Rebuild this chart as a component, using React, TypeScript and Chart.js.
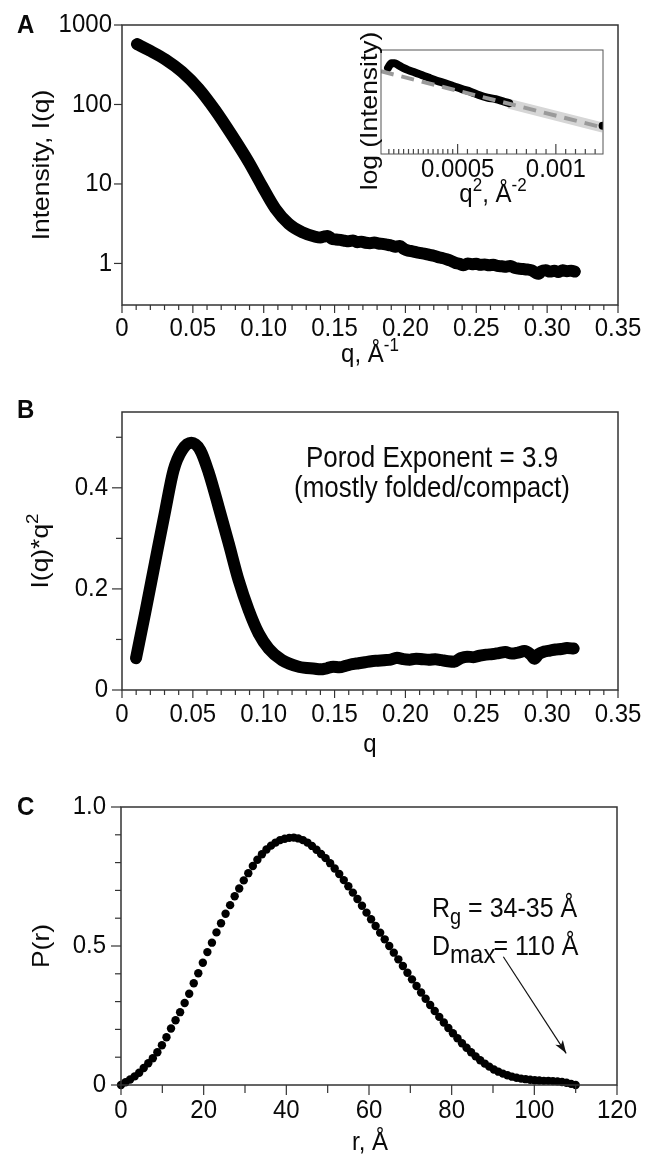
import React, { useEffect, useRef } from "react";
import { Chart, registerables } from "chart.js";

Chart.register(...registerables);

const FONT = '"Liberation Sans", Arial, Helvetica, sans-serif';
const INK = "#0a0a0a";
const STRETCH = 1.1; // the reference lettering is slightly tall

// ---------- Panel A : I(q) vs q (log) ----------
const qA = [0.0106, 0.0188, 0.0306, 0.0423, 0.0541, 0.0658, 0.0776, 0.0894, 0.0988, 0.1082, 0.1176, 0.127, 0.1364, 0.14, 0.1425, 0.145, 0.148, 0.151, 0.154, 0.157, 0.16, 0.163, 0.166, 0.169, 0.172, 0.175, 0.178, 0.181, 0.184, 0.187, 0.19, 0.193, 0.196, 0.199, 0.202, 0.205, 0.208, 0.211, 0.214, 0.217, 0.22, 0.223, 0.226, 0.229, 0.232, 0.235, 0.238, 0.241, 0.244, 0.247, 0.25, 0.253, 0.256, 0.259, 0.262, 0.265, 0.268, 0.271, 0.274, 0.277, 0.28, 0.283, 0.286, 0.289, 0.292, 0.294, 0.296, 0.299, 0.302, 0.305, 0.308, 0.311, 0.314, 0.317, 0.3195];
const intensityA = [575, 484, 369, 258, 158.5, 84.7, 41, 18.9, 9.44, 4.9, 3.16, 2.48, 2.17, 2.12, 2.18, 2.22, 2.05, 2.0, 1.98, 1.93, 1.9, 1.95, 1.85, 1.88, 1.82, 1.8, 1.83, 1.78, 1.76, 1.72, 1.68, 1.62, 1.66, 1.52, 1.45, 1.42, 1.38, 1.35, 1.32, 1.28, 1.25, 1.2, 1.17, 1.13, 1.08, 1.02, 0.99, 0.95, 1.0, 0.98, 0.99, 0.96, 0.97, 0.95, 0.96, 0.93, 0.92, 0.91, 0.93, 0.88, 0.86, 0.85, 0.84, 0.82, 0.76, 0.74, 0.8, 0.82, 0.79, 0.81, 0.78, 0.82, 0.8, 0.81, 0.79];

// ---------- Inset : Guinier plot ----------
const q2Inset = [0.000146, 0.000163, 0.00018, 0.000197, 0.000223, 0.000249, 0.000283, 0.000317, 0.000351, 0.000394, 0.000437, 0.00048, 0.000522, 0.000566, 0.000608, 0.000651, 0.000694, 0.000737, 0.000762];
const logIInset = [2.798, 2.814, 2.814, 2.808, 2.798, 2.79, 2.782, 2.773, 2.764, 2.753, 2.744, 2.734, 2.724, 2.715, 2.703, 2.694, 2.689, 2.68, 2.675];
const fitQ2 = [0.00011, 0.00124];
const fitLogI = [2.786, 2.59];
const bandQ2 = [0.00076, 0.00124];
const bandLogI = [2.673, 2.59];
const endQ2 = [0.001238];
const endLogI = [2.596];

// ---------- Panel B : Kratky ----------
const qB = [0.0099, 0.0164, 0.0235, 0.0306, 0.0364, 0.0423, 0.0489, 0.0553, 0.0611, 0.0682, 0.0753, 0.0823, 0.0894, 0.0964, 0.1035, 0.1129, 0.1247, 0.1364, 0.14, 0.1445, 0.149, 0.1535, 0.158, 0.1625, 0.167, 0.1715, 0.176, 0.1805, 0.185, 0.1895, 0.194, 0.1985, 0.203, 0.2075, 0.212, 0.2165, 0.221, 0.2255, 0.23, 0.2345, 0.239, 0.2435, 0.248, 0.2525, 0.257, 0.2615, 0.266, 0.2705, 0.275, 0.2795, 0.284, 0.2885, 0.291, 0.294, 0.298, 0.302, 0.306, 0.31, 0.314, 0.3187];
const kratkyB = [0.063, 0.153, 0.255, 0.356, 0.435, 0.474, 0.489, 0.474, 0.431, 0.362, 0.29, 0.217, 0.158, 0.112, 0.082, 0.059, 0.046, 0.042, 0.041, 0.043, 0.046, 0.045, 0.048, 0.051, 0.053, 0.055, 0.057, 0.058, 0.059, 0.06, 0.064, 0.061, 0.06, 0.062, 0.061, 0.06, 0.061, 0.059, 0.057, 0.056, 0.063, 0.066, 0.065, 0.068, 0.07, 0.071, 0.073, 0.075, 0.072, 0.074, 0.077, 0.07, 0.062, 0.071, 0.076, 0.078, 0.08, 0.081, 0.083, 0.082];

// ---------- Panel C : P(r) ----------
const rC = [0, 1.1, 2.2, 3.3, 4.4, 5.5, 6.6, 7.7, 8.8, 9.9, 11, 12.1, 13.2, 14.3, 15.4, 16.5, 17.6, 18.7, 19.8, 20.9, 22, 23.1, 24.2, 25.3, 26.4, 27.5, 28.6, 29.7, 30.8, 31.9, 33, 34.1, 35.2, 36.3, 37.4, 38.5, 39.6, 40.7, 41.8, 42.9, 44, 45.1, 46.2, 47.3, 48.4, 49.5, 50.6, 51.7, 52.8, 53.9, 55, 56.1, 57.2, 58.3, 59.4, 60.5, 61.6, 62.7, 63.8, 64.9, 66, 67.1, 68.2, 69.3, 70.4, 71.5, 72.6, 73.7, 74.8, 75.9, 77, 78.1, 79.2, 80.3, 81.4, 82.5, 83.6, 84.7, 85.8, 86.9, 88, 89.1, 90.2, 91.3, 92.4, 93.5, 94.6, 95.7, 96.8, 97.9, 99, 100.1, 101.2, 102.3, 103.4, 104.5, 105.6, 106.7, 107.8, 108.9, 110];
const prC = [0.0, 0.01, 0.02, 0.031, 0.044, 0.061, 0.078, 0.096, 0.118, 0.143, 0.172, 0.203, 0.233, 0.262, 0.295, 0.328, 0.366, 0.402, 0.44, 0.478, 0.512, 0.549, 0.582, 0.616, 0.647, 0.679, 0.707, 0.736, 0.762, 0.788, 0.81, 0.83, 0.847, 0.861, 0.872, 0.881, 0.886, 0.889, 0.89, 0.887, 0.881, 0.872, 0.86, 0.846, 0.831, 0.816, 0.798, 0.779, 0.759, 0.737, 0.715, 0.692, 0.669, 0.645, 0.62, 0.596, 0.572, 0.548, 0.524, 0.5, 0.476, 0.452, 0.428, 0.404, 0.38, 0.356, 0.333, 0.31, 0.288, 0.266, 0.245, 0.225, 0.205, 0.186, 0.168, 0.15, 0.134, 0.118, 0.103, 0.089, 0.077, 0.066, 0.056, 0.048, 0.041, 0.035, 0.03, 0.026, 0.023, 0.021, 0.019, 0.017, 0.016, 0.015, 0.015, 0.014, 0.013, 0.011, 0.008, 0.004, 0.0];

// ---------- Ticks ----------
const qMajor = [0, 0.05, 0.1, 0.15, 0.2, 0.25, 0.3, 0.35];
const qLabels = ["0", "0.05", "0.10", "0.15", "0.20", "0.25", "0.30", "0.35"];
const qMinor = [0.01, 0.02, 0.03, 0.04, 0.06, 0.07, 0.08, 0.09, 0.11, 0.12, 0.13, 0.14, 0.16, 0.17, 0.18, 0.19, 0.21, 0.22, 0.23, 0.24, 0.26, 0.27, 0.28, 0.29, 0.31, 0.32, 0.33, 0.34];
const iMajor = [1, 10, 100, 1000];
const iLabels = ["1", "10", "100", "1000"];
const kMajor = [0, 0.2, 0.4];
const kLabels = ["0", "0.2", "0.4"];
const kMinor = [0.1, 0.3, 0.5];
const q2Major = [0.0005, 0.001];
const q2Labels = ["0.0005", "0.001"];
const q2Minor = [0.00015, 0.000175, 0.0002, 0.000225, 0.00025, 0.000275, 0.0003, 0.000325, 0.00035, 0.000375, 0.0004, 0.000425, 0.00045, 0.000475, 0.00055, 0.0006, 0.00065, 0.0007, 0.00075, 0.0008, 0.00085, 0.0009, 0.00095, 0.00105, 0.0011, 0.00115, 0.0012];
const rMajor = [0, 20, 40, 60, 80, 100, 120];
const rLabels = ["0", "20", "40", "60", "80", "100", "120"];
const rMinor = [10, 30, 50, 70, 90, 110];
const pMajor = [0, 0.5, 1.0];
const pLabels = ["0", "0.5", "1.0"];
const pMinor = [0.1, 0.2, 0.3, 0.4, 0.6, 0.7, 0.8, 0.9];

type Part = { t: string; size?: number; dy?: number; dx?: number; bold?: boolean };
type TextItem = {
  x: number;
  y: number;
  parts: Part[];
  align?: "left" | "center" | "right";
  rotate?: number;
  size?: number;
  baseline?: CanvasTextBaseline;
};
type TickSet = { scale: string; values: number[]; len: number; inside?: boolean };
type LabelSet = { scale: string; values: number[]; labels: string[]; pad: number };
type Arrow = { x0: number; y0: number; x1: number; y1: number };
type Decor = {
  frameColor: string;
  frameWidth: number;
  tickColor: string;
  ticks: TickSet[];
  labels: LabelSet[];
  texts: TextItem[];
  arrows?: Arrow[];
};

const fontStr = (size: number, bold?: boolean) => `${bold ? "bold " : ""}${size}px ${FONT}`;

function drawRich(ctx: CanvasRenderingContext2D, item: TextItem) {
  const base = item.size ?? 24;
  ctx.save();
  ctx.translate(item.x, item.y);
  ctx.scale(1, STRETCH);
  if (item.rotate) ctx.rotate(item.rotate);
  ctx.textBaseline = item.baseline ?? "alphabetic";
  ctx.textAlign = "left";
  ctx.fillStyle = INK;
  const widths = item.parts.map((p) => {
    ctx.font = fontStr(p.size ?? base, p.bold);
    return ctx.measureText(p.t).width;
  });
  const total = widths.reduce((a, b) => a + b, 0) + item.parts.reduce((a, p) => a + (p.dx ?? 0), 0);
  let x = item.align === "center" ? -total / 2 : item.align === "right" ? -total : 0;
  item.parts.forEach((p, i) => {
    x += p.dx ?? 0;
    ctx.font = fontStr(p.size ?? base, p.bold);
    ctx.fillText(p.t, x, p.dy ?? 0);
    x += widths[i];
  });
  ctx.restore();
}

function makeDecor(cfg: Decor) {
  return {
    id: "decor",
    afterDraw(chart: any) {
      const ctx: CanvasRenderingContext2D = chart.ctx;
      const a = chart.chartArea;
      ctx.save();
      ctx.strokeStyle = cfg.tickColor;
      ctx.lineWidth = 1.2;
      for (const ts of cfg.ticks) {
        const s = chart.scales[ts.scale];
        for (const v of ts.values) {
          const p = s.getPixelForValue(v);
          ctx.beginPath();
          if (s.isHorizontal()) {
            const dir = ts.inside ? -1 : 1;
            ctx.moveTo(p, a.bottom);
            ctx.lineTo(p, a.bottom + dir * ts.len);
          } else {
            const dir = ts.inside ? 1 : -1;
            ctx.moveTo(a.left, p);
            ctx.lineTo(a.left + dir * ts.len, p);
          }
          ctx.stroke();
        }
      }
      ctx.strokeStyle = cfg.frameColor;
      ctx.lineWidth = cfg.frameWidth;
      ctx.strokeRect(a.left, a.top, a.right - a.left, a.bottom - a.top);
      for (const ls of cfg.labels) {
        const s = chart.scales[ls.scale];
        ls.values.forEach((v, i) => {
          const p = s.getPixelForValue(v);
          if (s.isHorizontal()) {
            drawRich(ctx, { x: p, y: a.bottom + ls.pad + 14.4, align: "center", baseline: "middle", parts: [{ t: ls.labels[i] }] });
          } else {
            drawRich(ctx, { x: a.left - ls.pad, y: p, align: "right", baseline: "middle", parts: [{ t: ls.labels[i] }] });
          }
        });
      }
      if (cfg.arrows) {
        const xs = chart.scales.x;
        const ys = chart.scales.y;
        for (const ar of cfg.arrows) {
          const x0 = xs.getPixelForValue(ar.x0);
          const y0 = ys.getPixelForValue(ar.y0);
          const x1 = xs.getPixelForValue(ar.x1);
          const y1 = ys.getPixelForValue(ar.y1);
          ctx.strokeStyle = "#111";
          ctx.fillStyle = "#111";
          ctx.lineWidth = 1.2;
          ctx.beginPath();
          ctx.moveTo(x0, y0);
          ctx.lineTo(x1, y1);
          ctx.stroke();
          const ang = Math.atan2(y1 - y0, x1 - x0);
          const L = 13;
          const W = 4.5;
          ctx.beginPath();
          ctx.moveTo(x1, y1);
          ctx.lineTo(x1 - L * Math.cos(ang) + W * Math.sin(ang), y1 - L * Math.sin(ang) - W * Math.cos(ang));
          ctx.lineTo(x1 - L * 0.75 * Math.cos(ang), y1 - L * 0.75 * Math.sin(ang));
          ctx.lineTo(x1 - L * Math.cos(ang) - W * Math.sin(ang), y1 - L * Math.sin(ang) + W * Math.cos(ang));
          ctx.closePath();
          ctx.fill();
        }
      }
      for (const t of cfg.texts) drawRich(ctx, t);
      ctx.restore();
    },
  };
}

function axis(min: number, max: number, size: number, horizontal: boolean, type = "linear") {
  return {
    type,
    min,
    max,
    bounds: "data",
    afterFit: (s: any) => {
      if (horizontal) s.height = size;
      else s.width = size;
    },
    ticks: { display: false },
    grid: { display: false, drawTicks: false },
    border: { display: false },
  };
}

const baseOptions = {
  animation: false as const,
  responsive: false,
  events: [] as any[],
  plugins: { legend: { display: false }, tooltip: { enabled: false } },
};

const pts = (xs: number[], ys: number[]) => xs.map((x, i) => ({ x, y: ys[i] }));

const thickCurve = {
  showLine: true,
  borderColor: "#000",
  backgroundColor: "#000",
  borderWidth: 12,
  borderCapStyle: "round",
  borderJoinStyle: "round",
  cubicInterpolationMode: "monotone",
  pointRadius: 5.5,
  pointBorderWidth: 0,
  pointBackgroundColor: "#000",
};

export default function App() {
  const aRef = useRef<HTMLCanvasElement>(null);
  const insetRef = useRef<HTMLCanvasElement>(null);
  const bRef = useRef<HTMLCanvasElement>(null);
  const cRef = useRef<HTMLCanvasElement>(null);

  useEffect(() => {
    Chart.defaults.font.family = FONT;
    Chart.defaults.color = INK;
    const charts: Chart[] = [];

    // Panel A
    charts.push(
      new Chart(aRef.current!, {
        type: "scatter",
        data: { datasets: [{ data: pts(qA, intensityA), ...thickCurve } as any] },
        options: {
          ...baseOptions,
          layout: { padding: { left: 0, right: 27, top: 25, bottom: 0 } },
          scales: {
            x: axis(0, 0.35, 75, true) as any,
            y: axis(0.3, 1000, 122, false, "logarithmic") as any,
          },
        } as any,
        plugins: [
          makeDecor({
            frameColor: "#333",
            frameWidth: 1.5,
            tickColor: "#333",
            ticks: [
              { scale: "x", values: qMajor, len: 8 },
              { scale: "x", values: qMinor, len: 5 },
              { scale: "y", values: iMajor, len: 8 },
            ],
            labels: [
              { scale: "x", values: qMajor, labels: qLabels, pad: 9 },
              { scale: "y", values: iMajor, labels: iLabels, pad: 10 },
            ],
            texts: [
              { x: 17, y: 33, parts: [{ t: "A", bold: true }], size: 24 },
              { x: 49, y: 165, rotate: -Math.PI / 2, align: "center", parts: [{ t: "Intensity, I(q)" }] },
              { x: 370, y: 362, align: "center", parts: [{ t: "q, Å" }, { t: "-1", size: 17, dy: -10 }] },
            ],
          }) as any,
        ],
      })
    );

    // Inset (Guinier)
    charts.push(
      new Chart(insetRef.current!, {
        type: "scatter",
        data: {
          datasets: [
            { data: pts(fitQ2, fitLogI), showLine: true, borderColor: "#9a9a9a", borderWidth: 4, borderDash: [13, 8], pointRadius: 0, order: 0 } as any,
            {
              data: pts(q2Inset, logIInset),
              showLine: true,
              borderColor: "#000",
              borderWidth: 8,
              borderCapStyle: "round",
              borderJoinStyle: "round",
              cubicInterpolationMode: "monotone",
              pointRadius: 0,
              order: 1,
            } as any,
            { data: pts(endQ2, endLogI), pointRadius: 4, pointBackgroundColor: "#000", pointBorderWidth: 0, order: 1 } as any,
            { data: pts(bandQ2, bandLogI), showLine: true, borderColor: "#d6d6d6", borderWidth: 10, pointRadius: 0, order: 2 } as any,
          ],
        },
        options: {
          ...baseOptions,
          layout: { padding: { left: 41, right: 17, top: 30, bottom: 0 } },
          scales: {
            x: axis(0.00011, 0.00124, 61, true) as any,
            y: { type: "linear", min: 2.498, max: 2.86, display: false },
          },
        } as any,
        plugins: [
          makeDecor({
            frameColor: "#555",
            frameWidth: 1,
            tickColor: "#444",
            ticks: [
              { scale: "x", values: q2Major, len: 10, inside: true },
              { scale: "x", values: q2Minor, len: 5, inside: true },
            ],
            labels: [{ scale: "x", values: q2Major, labels: q2Labels, pad: 1 }],
            texts: [
              { x: 37, y: 91, rotate: -Math.PI / 2, align: "center", parts: [{ t: "log (Intensity)" }] },
              { x: 153, y: 182, align: "center", parts: [{ t: "q" }, { t: "2", size: 17, dy: -10 }, { t: ", Å" }, { t: "-2", size: 17, dy: -10 }] },
            ],
          }) as any,
        ],
      })
    );

    // Panel B
    charts.push(
      new Chart(bRef.current!, {
        type: "scatter",
        data: { datasets: [{ data: pts(qB, kratkyB), ...thickCurve } as any] },
        options: {
          ...baseOptions,
          layout: { padding: { left: 0, right: 27, top: 27, bottom: 0 } },
          scales: {
            x: axis(0, 0.35, 75, true) as any,
            y: axis(0, 0.55, 122, false) as any,
          },
        } as any,
        plugins: [
          makeDecor({
            frameColor: "#333",
            frameWidth: 1.5,
            tickColor: "#333",
            ticks: [
              { scale: "x", values: qMajor, len: 8 },
              { scale: "x", values: qMinor, len: 5 },
              { scale: "y", values: kMajor, len: 10 },
              { scale: "y", values: kMinor, len: 6 },
            ],
            labels: [
              { scale: "x", values: qMajor, labels: qLabels, pad: 10 },
              { scale: "y", values: kMajor, labels: kLabels, pad: 14 },
            ],
            texts: [
              { x: 17, y: 33, parts: [{ t: "B", bold: true }], size: 24 },
              { x: 48, y: 166, rotate: -Math.PI / 2, align: "center", parts: [{ t: "I(q)*q" }, { t: "2", size: 17, dy: -10 }] },
              { x: 370, y: 367, align: "center", parts: [{ t: "q" }] },
              { x: 432, y: 82, align: "center", size: 26, parts: [{ t: "Porod Exponent = 3.9" }] },
              { x: 432, y: 112, align: "center", size: 26, parts: [{ t: "(mostly folded/compact)" }] },
            ],
          }) as any,
        ],
      })
    );

    // Panel C
    charts.push(
      new Chart(cRef.current!, {
        type: "scatter",
        data: {
          datasets: [{ data: pts(rC, prC), pointRadius: 4.2, pointBackgroundColor: "#000", pointBorderWidth: 0, clip: false } as any],
        },
        options: {
          ...baseOptions,
          layout: { padding: { left: 0, right: 28, top: 27, bottom: 0 } },
          scales: {
            x: axis(0, 120, 70, true) as any,
            y: axis(0, 1.0, 121, false) as any,
          },
        } as any,
        plugins: [
          makeDecor({
            frameColor: "#333",
            frameWidth: 1.5,
            tickColor: "#333",
            ticks: [
              { scale: "x", values: rMajor, len: 10 },
              { scale: "x", values: rMinor, len: 8 },
              { scale: "y", values: pMajor, len: 10 },
              { scale: "y", values: pMinor, len: 6 },
            ],
            labels: [
              { scale: "x", values: rMajor, labels: rLabels, pad: 11 },
              { scale: "y", values: pMajor, labels: pLabels, pad: 15 },
            ],
            arrows: [{ x0: 92.5, y0: 0.4615, x1: 107.7, y1: 0.114 }],
            texts: [
              { x: 17, y: 35, parts: [{ t: "C", bold: true }], size: 24 },
              { x: 49, y: 166, rotate: -Math.PI / 2, align: "center", parts: [{ t: "P(r)" }] },
              { x: 370, y: 370, align: "center", parts: [{ t: "r, Å" }] },
              { x: 432, y: 137, size: 25, parts: [{ t: "R" }, { t: "g", size: 20, dy: 6 }, { t: " = 34-35 Å" }] },
              { x: 432, y: 175, size: 25, parts: [{ t: "D" }, { t: "max", size: 24, dy: 7 }, { t: "= 110 Å", dx: -2 }] },
            ],
          }) as any,
        ],
      })
    );

    return () => charts.forEach((c) => c.destroy());
  }, []);

  return (
    <div style={{ position: "absolute", left: 0, top: 0, width: 645, height: 1155, background: "#fff", overflow: "hidden" }}>
      <canvas ref={aRef} width={645} height={380} style={{ position: "absolute", left: 0, top: 0 }} />
      <canvas ref={insetRef} width={280} height={195} style={{ position: "absolute", left: 340, top: 20 }} />
      <canvas ref={bRef} width={645} height={380} style={{ position: "absolute", left: 0, top: 385 }} />
      <canvas ref={cRef} width={645} height={375} style={{ position: "absolute", left: 0, top: 780 }} />
    </div>
  );
}
